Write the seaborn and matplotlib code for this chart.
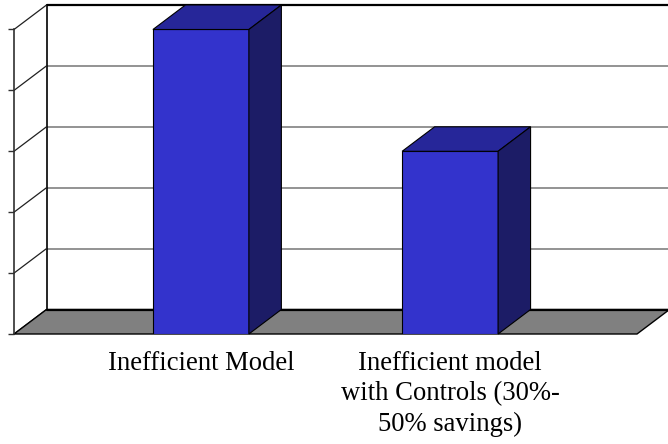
import matplotlib
matplotlib.use("Agg")
import matplotlib.pyplot as plt
from matplotlib.patches import Polygon
import seaborn as sns
import pandas as pd

# Chart data
categories = ["Inefficient Model", "Inefficient model\nwith Controls (30%-\n50% savings)"]
values = [5, 3]
y_ticks = [0, 1, 2, 3, 4, 5]

# Colours of the pseudo-3D bars and chart walls
FRONT = "#3333CC"
TOP = "#262699"
SIDE = "#1C1C66"
FLOOR = "#808080"
GRID = "#808080"

sns.set_theme(style="white")
plt.rcParams["font.family"] = ["Liberation Serif", "DejaVu Serif"]

W, H, DPI = 668, 444, 100
fig = plt.figure(figsize=(W / DPI, H / DPI), dpi=DPI)
# the axes box is the front plane of the 3-D chart
ax_l, ax_r, ax_b, ax_t = 14, 637, 334, 29.5
ax = fig.add_axes([ax_l / W, (H - ax_b) / H, (ax_r - ax_l) / W, (ax_b - ax_t) / H])

df = pd.DataFrame({"category": categories, "value": values})
sns.barplot(data=df, x="category", y="value", color=FRONT, saturation=1,
            width=0.385, edgecolor="black", linewidth=0.8, ax=ax, zorder=5)

xl, xr = -0.75, 1.75
yl, yt = y_ticks[0], y_ticks[-1]
ax.set_xlim(xl, xr)
ax.set_ylim(yl, yt)

# depth of the chart in pixels, converted to data units
depth_px_x, depth_px_y = 32.5, 24.5
ddx = depth_px_x * (xr - xl) / (ax_r - ax_l)
ddy = depth_px_y * (yt - yl) / (ax_b - ax_t)

kw = dict(clip_on=False)

# back wall gridlines
for v in y_ticks[1:-1]:
    ax.plot([xl + ddx, xr + ddx], [v + ddy, v + ddy], color=GRID, lw=1.2, zorder=1, **kw)
# back wall top and left edges
ax.plot([xl + ddx, xr + ddx], [yt + ddy, yt + ddy], color="black", lw=1.6, zorder=1, **kw)
ax.plot([xl + ddx, xl + ddx], [yl + ddy, yt + ddy], color="black", lw=1.2, zorder=1, **kw)
# side wall lines
for v in y_ticks:
    ax.plot([xl, xl + ddx], [v, v + ddy], color="#202020", lw=0.9, zorder=1, **kw)

# floor
floor = Polygon([(xl, yl), (xr, yl), (xr + ddx, yl + ddy), (xl + ddx, yl + ddy)],
                closed=True, facecolor=FLOOR, edgecolor="black", lw=1.0, zorder=2, **kw)
ax.add_patch(floor)
ax.plot([xl + ddx, xr + ddx], [yl + ddy, yl + ddy], color="black", lw=1.6, zorder=2, **kw)

# top and side faces of each bar
for bar in list(ax.patches):
    if bar is floor:
        continue
    x0, w, h = bar.get_x(), bar.get_width(), bar.get_height()
    top = Polygon([(x0, h), (x0 + w, h), (x0 + w + ddx, h + ddy), (x0 + ddx, h + ddy)],
                  closed=True, facecolor=TOP, edgecolor="black", lw=0.8, zorder=6, **kw)
    side = Polygon([(x0 + w, 0), (x0 + w + ddx, ddy), (x0 + w + ddx, h + ddy), (x0 + w, h)],
                   closed=True, facecolor=SIDE, edgecolor="black", lw=0.8, zorder=6, **kw)
    ax.add_patch(top)
    ax.add_patch(side)

# front vertical axis with ticks
for s in ["top", "right", "bottom"]:
    ax.spines[s].set_visible(False)
ax.spines["left"].set_color("#303030")
ax.spines["left"].set_linewidth(1.2)
ax.set_yticks(y_ticks)
ax.set_yticklabels([])
ax.tick_params(axis="y", left=True, length=4, width=1, color="#303030")
ax.tick_params(axis="x", bottom=False, length=0, pad=12, labelsize=19.2)
for lbl in ax.get_xticklabels():
    lbl.set_family(["Liberation Serif", "DejaVu Serif"])
    lbl.set_linespacing(1.3)
    lbl.set_color("black")
ax.set_xlabel("")
ax.set_ylabel("")
ax.patch.set_alpha(0)

fig.savefig("out.png", dpi=DPI)
